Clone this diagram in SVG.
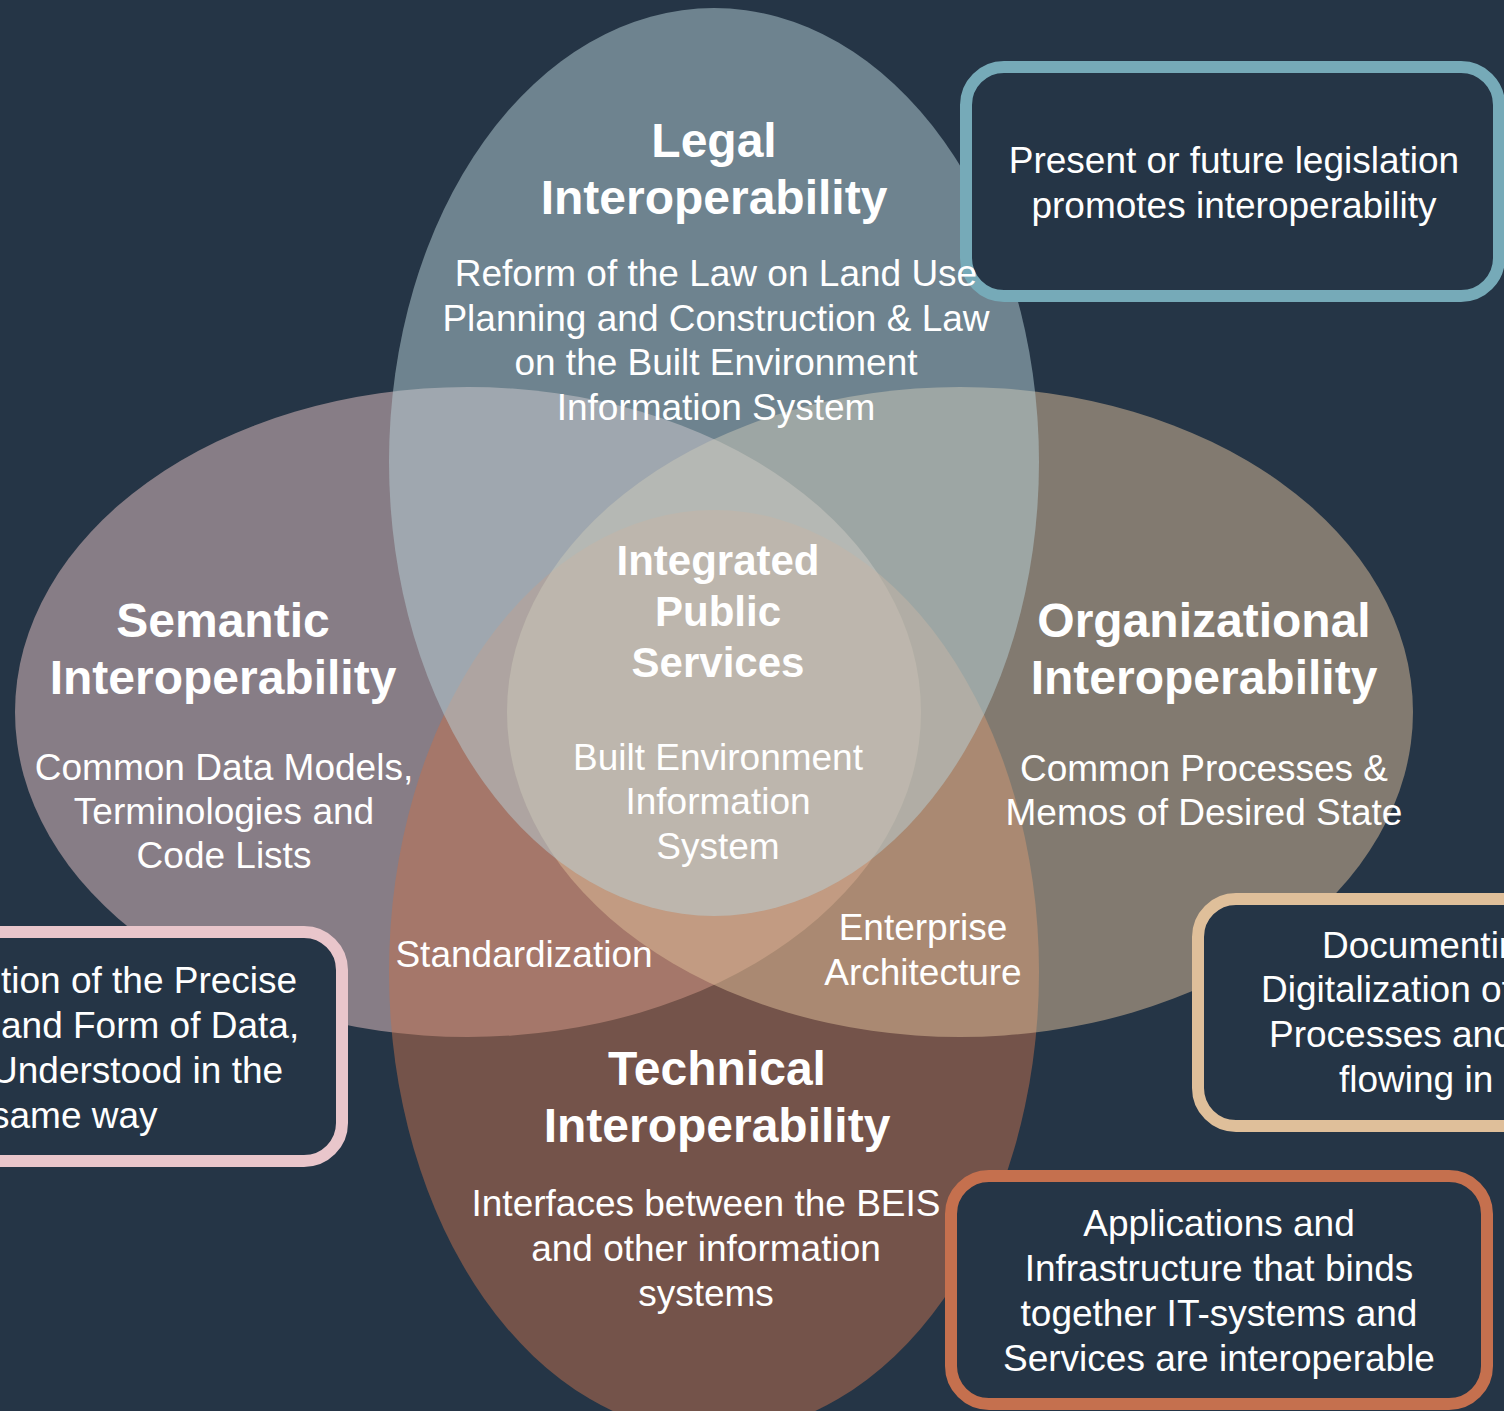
<svg xmlns="http://www.w3.org/2000/svg" width="1504" height="1411" viewBox="0 0 1504 1411">
  <style>
    .set { fill-opacity: 0.5; stroke: none; }
    .box { fill: #253546; stroke-width: 12; }
    text { font-family: "Liberation Sans", Arial, sans-serif; fill: #ffffff; }
    .t { font-size: 48px; font-weight: bold; text-anchor: middle; }
    .c { font-size: 42px; font-weight: bold; text-anchor: middle; }
    .d { font-size: 37px; text-anchor: middle; }
    .s { font-size: 37px; }
  </style>
  <rect id="background" x="0" y="0" width="1504" height="1411" fill="#253546"/>

  <g id="sets">
    <ellipse id="set-semantic" class="set" cx="468" cy="712" rx="453" ry="325" fill="#e9c5c6"/>
    <ellipse id="set-technical" class="set" cx="714" cy="972" rx="325" ry="462" fill="#c3714e"/>
    <ellipse id="set-organizational" class="set" cx="960" cy="712" rx="453" ry="325" fill="#dfbf9a"/>
    <ellipse id="set-legal" class="set" cx="714" cy="462" rx="325" ry="454" fill="#b8d2d8"/>
  </g>

  <g id="box-legislation">
    <rect class="box" x="966" y="67" width="533" height="229" rx="38" stroke="#76aab8"/>
    <text class="d" x="1234" y="173">Present or future legislation</text>
    <text class="d" x="1234" y="218">promotes interoperability</text>
  </g>

  <g id="box-data">
    <rect class="box" x="-60" y="932" width="402" height="229" rx="38" stroke="#e9c6cb"/>
    <text class="s" x="1" y="993">tion of the Precise</text>
    <text class="s" x="1" y="1038">and Form of Data,</text>
    <text class="s" x="-9" y="1083">Understood in the</text>
    <text class="s" x="-9" y="1128">same way</text>
  </g>

  <g id="box-processes">
    <rect class="box" x="1198" y="899" width="400" height="227" rx="38" stroke="#dfbf9a"/>
    <text class="s" x="1322" y="958">Documentin</text>
    <text class="s" x="1261" y="1002">Digitalization of</text>
    <text class="s" x="1269" y="1047">Processes and</text>
    <text class="s" x="1339" y="1092">flowing in</text>
  </g>

  <g id="box-applications">
    <rect class="box" x="951" y="1176" width="536" height="228" rx="38" stroke="#c5704e"/>
    <text class="d" x="1219" y="1236">Applications and</text>
    <text class="d" x="1219" y="1281">Infrastructure that binds</text>
    <text class="d" x="1219" y="1326">together IT-systems and</text>
    <text class="d" x="1219" y="1371">Services are interoperable</text>
  </g>

  <g id="legal">
    <text class="t" x="714" y="157">Legal</text>
    <text class="t" x="714" y="214">Interoperability</text>
    <text class="d" x="716" y="286">Reform of the Law on Land Use</text>
    <text class="d" x="716" y="331">Planning and Construction &amp; Law</text>
    <text class="d" x="716" y="375">on the Built Environment</text>
    <text class="d" x="716" y="420">Information System</text>
  </g>

  <g id="semantic">
    <text class="t" x="223" y="637">Semantic</text>
    <text class="t" x="223" y="694">Interoperability</text>
    <text class="d" x="224" y="780">Common Data Models,</text>
    <text class="d" x="224" y="824">Terminologies and</text>
    <text class="d" x="224" y="868">Code Lists</text>
  </g>

  <g id="organizational">
    <text class="t" x="1204" y="637">Organizational</text>
    <text class="t" x="1204" y="694">Interoperability</text>
    <text class="d" x="1204" y="781">Common Processes &amp;</text>
    <text class="d" x="1204" y="825">Memos of Desired State</text>
  </g>

  <g id="technical">
    <text class="t" x="717" y="1085">Technical</text>
    <text class="t" x="717" y="1142">Interoperability</text>
    <text class="d" x="706" y="1216">Interfaces between the BEIS</text>
    <text class="d" x="706" y="1261">and other information</text>
    <text class="d" x="706" y="1306">systems</text>
  </g>

  <g id="integrated">
    <text class="c" x="718" y="575">Integrated</text>
    <text class="c" x="718" y="626">Public</text>
    <text class="c" x="718" y="677">Services</text>
    <text class="d" x="718" y="770">Built Environment</text>
    <text class="d" x="718" y="814">Information</text>
    <text class="d" x="718" y="859">System</text>
  </g>

  <g id="standardization">
    <text class="d" x="524" y="967">Standardization</text>
  </g>

  <g id="enterprise-architecture">
    <text class="d" x="923" y="940">Enterprise</text>
    <text class="d" x="923" y="985">Architecture</text>
  </g>
</svg>
